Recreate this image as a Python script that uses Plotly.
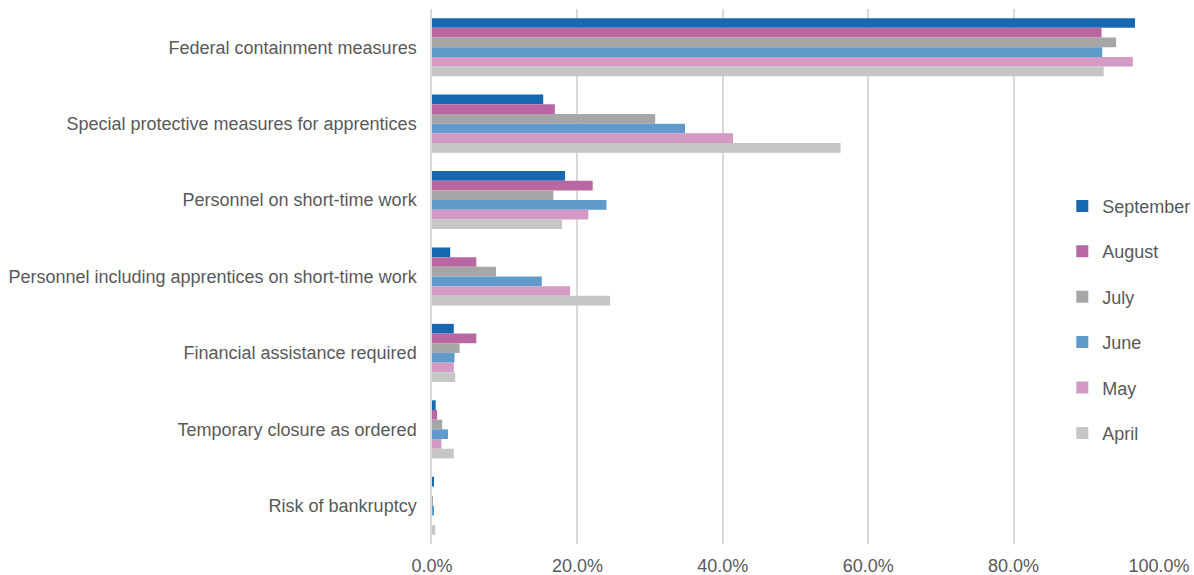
import plotly.graph_objects as go

categories = [
    "Federal containment measures",
    "Special protective measures for apprentices",
    "Personnel on short-time work",
    "Personnel including apprentices on short-time work",
    "Financial assistance required",
    "Temporary closure as ordered",
    "Risk of bankruptcy",
]

months = ["September", "August", "July", "June", "May", "April"]

september = [0.967, 0.153, 0.183, 0.025, 0.030, 0.005, 0.0015]
august = [0.921, 0.169, 0.221, 0.061, 0.061, 0.007, 0.0]
july = [0.941, 0.307, 0.167, 0.088, 0.038, 0.014, 0.001]
june = [0.922, 0.348, 0.240, 0.151, 0.031, 0.022, 0.0015]
may = [0.964, 0.414, 0.215, 0.190, 0.030, 0.013, 0.0]
april = [0.924, 0.562, 0.179, 0.245, 0.032, 0.030, 0.0045]

series = [september, august, july, june, may, april]
colors = ["#1669B0", "#B967A3", "#A6A6A6", "#5F9ACB", "#D39AC3", "#C6C6C6"]

fig = go.Figure()
for i, (name, vals, col) in enumerate(zip(months, series, colors)):
    fig.add_trace(go.Bar(
        y=categories, x=vals, name=name, orientation="h",
        marker=dict(color=col, line=dict(width=0)),
        legendgroup=name,
    ))

font = "Liberation Sans, Arial, sans-serif"
fig.update_layout(
    width=1194, height=575,
    margin=dict(l=432, r=35, t=9, b=31, autoexpand=False),
    barmode="group",
    bargap=0.24,
    bargroupgap=0,
    plot_bgcolor="white",
    paper_bgcolor="white",
    font=dict(family=font, size=18, color="#595959"),
    legend=dict(
        x=0.867, xanchor="left", y=0.666, yanchor="top",
        traceorder="grouped", tracegroupgap=19,
        font=dict(size=18, color="#595959"),
        bgcolor="rgba(0,0,0,0)", itemwidth=30,
    ),
)
fig.update_xaxes(
    range=[0, 1], tickvals=[0, 0.2, 0.4, 0.6, 0.8, 1.0], tickformat=".1%",
    showgrid=True, gridcolor="#D9D9D9", gridwidth=1.5,
    zeroline=False, showline=False, automargin=False,
    ticks="outside", ticklen=5, tickcolor="rgba(0,0,0,0)",
    tickfont=dict(size=18, color="#595959"),
)
fig.update_yaxes(
    autorange="reversed", showgrid=False, zeroline=False,
    showline=True, linecolor="#D9D9D9", linewidth=1.5, automargin=False,
    ticks="", ticklabelstandoff=10,
    tickfont=dict(size=18, color="#595959"),
)

fig.write_html("out.html")
